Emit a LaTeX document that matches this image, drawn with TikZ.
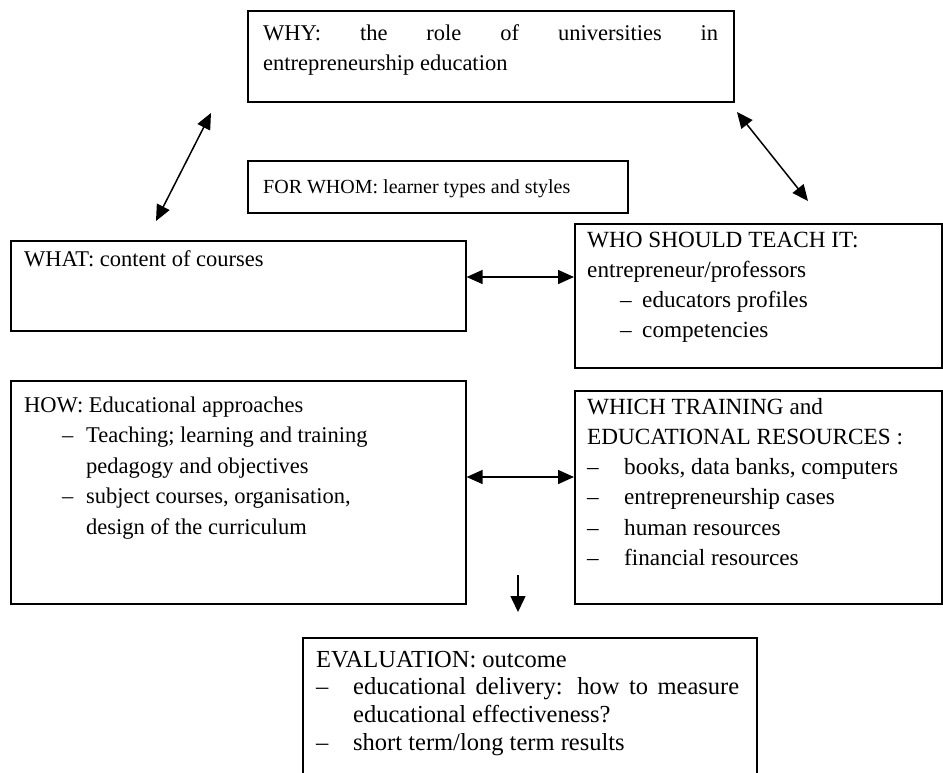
\documentclass[tikz,border=0pt]{standalone}
\usepackage{fontspec}
\setmainfont{Liberation Serif}
\usetikzlibrary{arrows.meta,calc}
\tikzset{
  box/.style={draw, line width=1.6pt, anchor=north west, inner sep=0pt},
  txt/.style={anchor=base west, inner sep=0pt, font=\fontsize{22.5}{30.5}\selectfont},
  rtxt/.style={txt, font=\fontsize{23.2}{30.3}\selectfont},
  dbl/.style={{Triangle[length=16pt,width=14pt]}-{Triangle[length=16pt,width=14pt]}, line width=1.5pt},
  sgl/.style={-{Triangle[length=16pt,width=15pt]}, line width=1.5pt}
}
\newcommand{\dsh}[1]{\makebox[#1][l]{–}}
\newcommand{\tb}[1]{\parbox[t]{430pt}{\raggedright #1}}
\begin{document}
\begin{tikzpicture}[x=1pt,y=-1pt]
\useasboundingbox (0,0) rectangle (943,772);
% boxes
\node[box, minimum width=486pt, minimum height=91pt] (why) at (247,10) {};
\node[box, minimum width=380pt, minimum height=52pt] (whom) at (247,160) {};
\node[box, minimum width=455pt, minimum height=90pt] (what) at (10,240) {};
\node[box, minimum width=367pt, minimum height=144pt] (who) at (574,223) {};
\node[box, minimum width=455pt, minimum height=223pt] (how) at (10,380) {};
\node[box, minimum width=367pt, minimum height=213pt] (which) at (574,390) {};
\node[box, minimum width=454pt, minimum height=150pt] (eval) at (302,637) {};
% texts
\node[txt] (twhy) at (263,40) {\tb{\makebox[455pt][s]{WHY: the role of universities in}\\entrepreneurship education}};
\node[txt, font=\fontsize{20}{24}\selectfont] (twhom) at (263,193) {FOR WHOM: learner types and styles};
\node[txt] (twhat) at (24,266) {WHAT: content of courses};
\node[rtxt] (twho) at (587,247) {\tb{WHO SHOULD TEACH IT:\\entrepreneur/professors\\\hspace*{33pt}\dsh{22pt}educators profiles\\\hspace*{33pt}\dsh{22pt}competencies}};
\node[txt] (thow) at (24,412) {\tb{HOW: Educational approaches\\\hspace*{38pt}\dsh{24pt}Teaching; learning and training\\\hspace*{62pt}pedagogy and objectives\\\hspace*{38pt}\dsh{24pt}subject courses, organisation,\\\hspace*{62pt}design of the curriculum}};
\node[rtxt] (twhich) at (587,414) {\tb{WHICH TRAINING and\\EDUCATIONAL RESOURCES :\\\dsh{37pt}books, data banks, computers\\\dsh{37pt}entrepreneurship cases\\\dsh{37pt}human resources\\\dsh{37pt}financial resources}};
\node[txt, font=\fontsize{24.5}{27.8}\selectfont] (teval) at (316,667) {\tb{EVALUATION: outcome\\\dsh{37pt}\makebox[386pt][s]{educational delivery: how to measure}\\\hspace*{37pt}educational effectiveness?\\\dsh{37pt}short term/long term results}};
% connectors
\coordinate (a1) at (211,113);
\coordinate (a2) at (156,221);
\draw[dbl] (a2) -- (a1);
\coordinate (b1) at (737,112);
\coordinate (b2) at (808,201);
\draw[dbl] (b1) -- (b2);
\draw[dbl] (what.east |- 0,277) -- (who.west |- 0,277);
\draw[dbl] (how.east |- 0,477) -- (which.west |- 0,477);
\coordinate (d1) at (518,575);
\coordinate (d2) at (518,612);
\draw[sgl] (d1) -- (d2);
\end{tikzpicture}
\end{document}
